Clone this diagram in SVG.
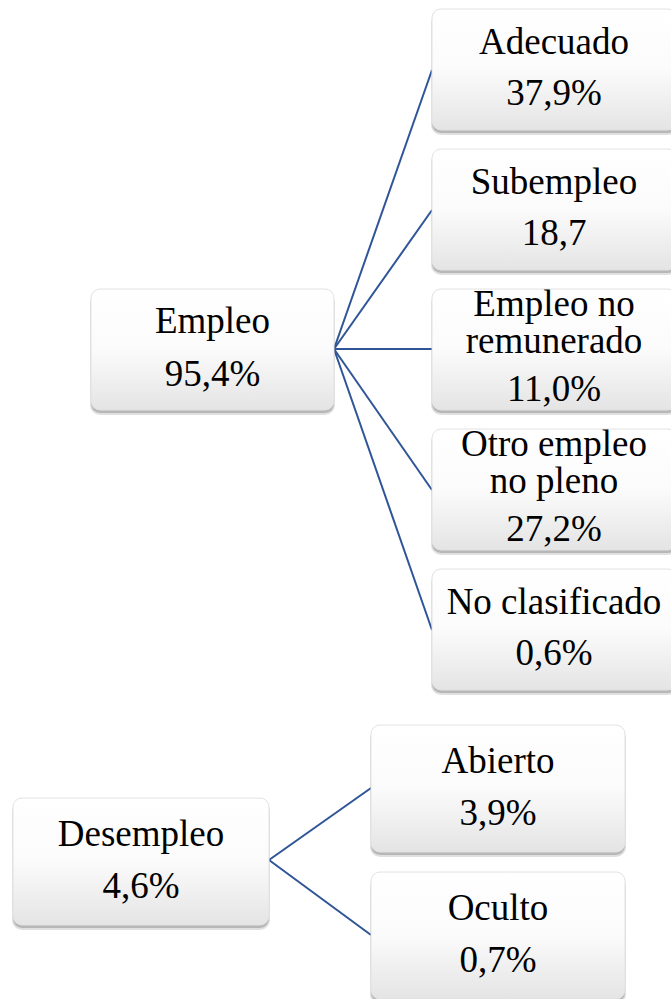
<svg xmlns="http://www.w3.org/2000/svg" width="671" height="999" viewBox="0 0 671 999">
<defs>
<linearGradient id="g" x1="0" y1="0" x2="0" y2="1">
<stop offset="0" stop-color="#ffffff"/>
<stop offset="0.5" stop-color="#fbfbfb"/>
<stop offset="1" stop-color="#e4e4e4"/>
</linearGradient>
</defs>
<rect width="671" height="999" fill="#ffffff"/>
<g id="connectors" stroke="#2f5597" stroke-width="2" fill="none">
<line x1="334" y1="349" x2="432" y2="70"/>
<line x1="334" y1="349" x2="432" y2="210"/>
<line x1="334" y1="349" x2="432" y2="349"/>
<line x1="334" y1="349" x2="432" y2="490"/>
<line x1="334" y1="349" x2="432" y2="630"/>
<line x1="269" y1="860" x2="371" y2="788"/>
<line x1="269" y1="860" x2="371" y2="935"/>
</g>
<g id="empleo">
<rect fill="#000" fill-opacity="0.12" x="90" y="292" width="245" height="123" rx="10"/>
<rect fill="#000" fill-opacity="0.18" x="91" y="292" width="243" height="121" rx="9"/>
<rect fill="url(#g)" stroke="#e2e2e2" x="91" y="289" width="243" height="121" rx="9"/>
<text font-family="Liberation Serif" font-size="37" text-anchor="middle" x="212.5" y="333">Empleo</text>
<text font-family="Liberation Serif" font-size="37" text-anchor="middle" x="212.5" y="386">95,4%</text>
</g>
<g id="adecuado">
<rect fill="#000" fill-opacity="0.12" x="431" y="12" width="247" height="123" rx="10"/>
<rect fill="#000" fill-opacity="0.18" x="432" y="12" width="245" height="121" rx="9"/>
<rect fill="url(#g)" stroke="#e2e2e2" x="432" y="9" width="245" height="121" rx="9"/>
<text font-family="Liberation Serif" font-size="37" text-anchor="middle" x="554" y="54">Adecuado</text>
<text font-family="Liberation Serif" font-size="37" text-anchor="middle" x="554" y="105">37,9%</text>
</g>
<g id="subempleo">
<rect fill="#000" fill-opacity="0.12" x="431" y="152" width="247" height="123" rx="10"/>
<rect fill="#000" fill-opacity="0.18" x="432" y="152" width="245" height="121" rx="9"/>
<rect fill="url(#g)" stroke="#e2e2e2" x="432" y="149" width="245" height="121" rx="9"/>
<text font-family="Liberation Serif" font-size="37" text-anchor="middle" x="554" y="194">Subempleo</text>
<text font-family="Liberation Serif" font-size="37" text-anchor="middle" x="554" y="245">18,7</text>
</g>
<g id="no-remunerado">
<rect fill="#000" fill-opacity="0.12" x="431" y="292" width="247" height="123" rx="10"/>
<rect fill="#000" fill-opacity="0.18" x="432" y="292" width="245" height="121" rx="9"/>
<rect fill="url(#g)" stroke="#e2e2e2" x="432" y="289" width="245" height="121" rx="9"/>
<text font-family="Liberation Serif" font-size="37" text-anchor="middle" x="554" y="316">Empleo no</text>
<text font-family="Liberation Serif" font-size="37" text-anchor="middle" x="554" y="353">remunerado</text>
<text font-family="Liberation Serif" font-size="37" text-anchor="middle" x="554" y="401">11,0%</text>
</g>
<g id="otro">
<rect fill="#000" fill-opacity="0.12" x="431" y="432" width="247" height="123" rx="10"/>
<rect fill="#000" fill-opacity="0.18" x="432" y="432" width="245" height="121" rx="9"/>
<rect fill="url(#g)" stroke="#e2e2e2" x="432" y="429" width="245" height="121" rx="9"/>
<text font-family="Liberation Serif" font-size="37" text-anchor="middle" x="554" y="456">Otro empleo</text>
<text font-family="Liberation Serif" font-size="37" text-anchor="middle" x="554" y="493">no pleno</text>
<text font-family="Liberation Serif" font-size="37" text-anchor="middle" x="554" y="541">27,2%</text>
</g>
<g id="no-clasificado">
<rect fill="#000" fill-opacity="0.12" x="431" y="572" width="247" height="123" rx="10"/>
<rect fill="#000" fill-opacity="0.18" x="432" y="572" width="245" height="121" rx="9"/>
<rect fill="url(#g)" stroke="#e2e2e2" x="432" y="569" width="245" height="121" rx="9"/>
<text font-family="Liberation Serif" font-size="37" text-anchor="middle" x="554" y="614">No clasificado</text>
<text font-family="Liberation Serif" font-size="37" text-anchor="middle" x="554" y="665">0,6%</text>
</g>
<g id="desempleo">
<rect fill="#000" fill-opacity="0.12" x="12" y="801" width="258" height="129" rx="10"/>
<rect fill="#000" fill-opacity="0.18" x="13" y="801" width="256" height="127" rx="9"/>
<rect fill="url(#g)" stroke="#e2e2e2" x="13" y="798" width="256" height="127" rx="9"/>
<text font-family="Liberation Serif" font-size="37" text-anchor="middle" x="141" y="846">Desempleo</text>
<text font-family="Liberation Serif" font-size="37" text-anchor="middle" x="141" y="898">4,6%</text>
</g>
<g id="abierto">
<rect fill="#000" fill-opacity="0.12" x="370" y="728" width="256" height="129" rx="10"/>
<rect fill="#000" fill-opacity="0.18" x="371" y="728" width="254" height="127" rx="9"/>
<rect fill="url(#g)" stroke="#e2e2e2" x="371" y="725" width="254" height="127" rx="9"/>
<text font-family="Liberation Serif" font-size="37" text-anchor="middle" x="498" y="773">Abierto</text>
<text font-family="Liberation Serif" font-size="37" text-anchor="middle" x="498" y="825">3,9%</text>
</g>
<g id="oculto">
<rect fill="#000" fill-opacity="0.12" x="370" y="875" width="256" height="129" rx="10"/>
<rect fill="#000" fill-opacity="0.18" x="371" y="875" width="254" height="127" rx="9"/>
<rect fill="url(#g)" stroke="#e2e2e2" x="371" y="872" width="254" height="127" rx="9"/>
<text font-family="Liberation Serif" font-size="37" text-anchor="middle" x="498" y="920">Oculto</text>
<text font-family="Liberation Serif" font-size="37" text-anchor="middle" x="498" y="972">0,7%</text>
</g>
</svg>
